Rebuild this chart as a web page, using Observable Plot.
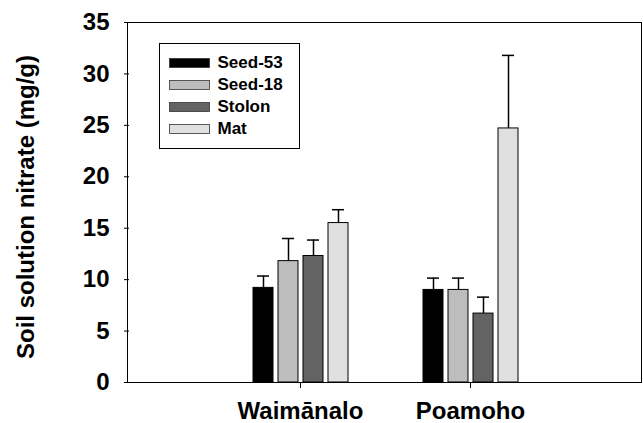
<!DOCTYPE html>
<html><head><meta charset="utf-8">
<script src="https://cdn.jsdelivr.net/npm/d3@7"></script>
<script src="https://cdn.jsdelivr.net/npm/@observablehq/plot@0.6"></script>
<style>body{margin:0;background:#fff}</style>
</head><body><div id="chart"></div>
<script>
const sites = ["Waimānalo", "Poamoho"];
const series = ["Seed-53", "Seed-18", "Stolon", "Mat"];
const waimanaloMeans = [9.2, 11.8, 12.3, 15.5];
const poamohoMeans = [9.0, 9.0, 6.7, 24.7];
const waimanaloErr = [1.15, 2.2, 1.55, 1.3];
const poamohoErr = [1.15, 1.15, 1.6, 7.1];
const yTicks = [0, 5, 10, 15, 20, 25, 30, 35];
const colors = ["#000000", "#bdbdbd", "#636363", "#e0e0e0"];
const yLabel = "Soil solution nitrate (mg/g)";

const means = [waimanaloMeans, poamohoMeans];
const errs = [waimanaloErr, poamohoErr];
const data = sites.flatMap((site, i) => series.map((s, j) => ({site, series: s, value: means[i][j], err: errs[i][j]})));

const W = 643, H = 423, mL = 127, mR = 1, mT = 22, mB = 41;
const font = "'Liberation Sans', Arial, sans-serif";
const plot = Plot.plot({
  width: W, height: H, marginLeft: mL, marginRight: mR, marginTop: mT, marginBottom: mB,
  style: {fontFamily: font, fontWeight: "bold", fontSize: "22px", background: "#fff", color: "#000"},
  facet: {data, x: "site"},
  fx: {domain: sites, paddingInner: -1.0117, paddingOuter: 0, label: null, axis: "bottom", tickSize: 6, tickPadding: 13},
  x: {domain: series, paddingInner: 0.2, paddingOuter: 4.79, axis: null},
  y: {domain: [0, 35], ticks: yTicks, tickSize: 5, tickPadding: 15, label: null},
  color: {domain: series, range: colors},
  marks: [
    Plot.barY(data, {x: "series", y: "value", fill: "series", stroke: "#000", strokeWidth: 1}),
    Plot.ruleX(data, {x: "series", y1: "value", y2: d => d.value + d.err, stroke: "#000", strokeWidth: 1.5}),
    Plot.tickY(data, {x: "series", y: d => d.value + d.err, stroke: "#000", strokeWidth: 1.5, insetLeft: 4, insetRight: 4})
  ]
});
const svg = d3.select(plot);
svg.selectAll('g[aria-label*="axis"]').attr("font-size", 24).attr("font-weight", "bold");
svg.append("rect").attr("x", mL + 0.5).attr("y", mT + 0.5).attr("width", W - mL - mR - 1).attr("height", H - mT - mB)
  .attr("fill", "none").attr("stroke", "#000").attr("stroke-width", 1);
svg.append("text").attr("transform", `translate(28,${(mT + H - mB) / 2 + 5}) rotate(-90)`)
  .attr("text-anchor", "middle").attr("dominant-baseline", "middle")
  .attr("font-size", 24).attr("font-weight", "bold").attr("font-family", font).text(yLabel);
const lg = svg.append("g").attr("transform", "translate(159.5,43.5)");
lg.append("rect").attr("width", 140).attr("height", 105).attr("fill", "#fff").attr("stroke", "#000");
series.forEach((s, i) => {
  const cy = 20 + i * 22;
  lg.append("rect").attr("x", 10).attr("y", cy - 5).attr("width", 40).attr("height", 9)
    .attr("fill", colors[i]).attr("stroke", "#333").attr("stroke-width", 0.8);
  lg.append("text").attr("x", 58).attr("y", cy).attr("text-anchor", "start").attr("dominant-baseline", "middle")
    .attr("font-size", 17).attr("font-weight", "bold").attr("font-family", font).text(s);
});
document.getElementById("chart").append(plot);
</script>
</body></html>
